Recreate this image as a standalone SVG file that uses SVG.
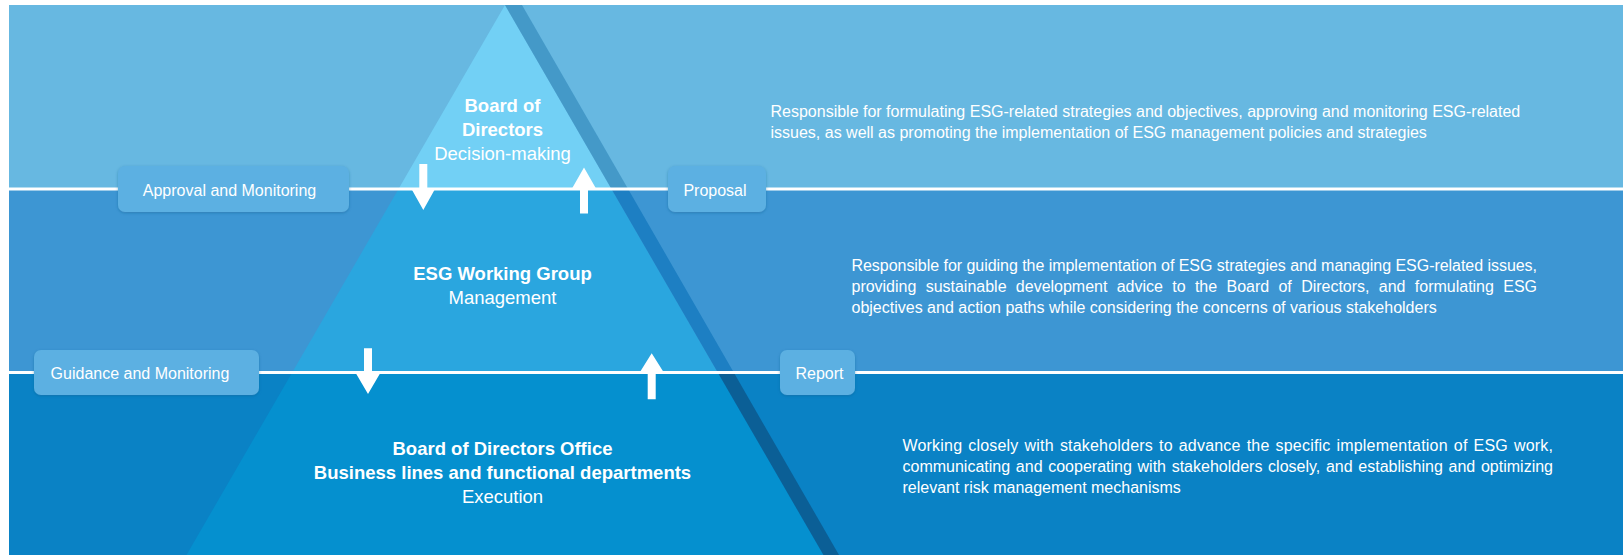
<svg xmlns="http://www.w3.org/2000/svg" width="1623" height="555" viewBox="0 0 1623 555">
  <defs>
    <style>
      .t { font-family: "Liberation Sans", Arial, sans-serif; fill: #ffffff; }
      .title { font-size: 18.5px; font-weight: bold; text-anchor: middle; }
      .sub { font-size: 18.5px; text-anchor: middle; }
      .desc { font-size: 16px; }
      .pilltxt { font-size: 16px; text-anchor: middle; }
      .pill { fill: #5cb0e2; filter: url(#sh); }
      .sep { stroke: #ffffff; stroke-width: 3; }
      .arrow { fill: #ffffff; }
    </style>
    <filter id="sh" x="-10%" y="-20%" width="120%" height="150%">
      <feDropShadow dx="0" dy="1" stdDeviation="1.5" flood-color="#1a5f90" flood-opacity="0.45"/>
    </filter>
  </defs>

  <rect x="0" y="0" width="1623" height="555" fill="#ffffff"/>

  <!-- Band 1: Board of Directors -->
  <g id="tier-board">
    <rect x="9" y="5" width="1614" height="184" fill="#67b8e1"/>
    <polygon points="505,5 398.5,189 611.5,189" fill="#72d0f5"/>
    <polygon points="505,5 522,5 628.1,189 611.5,189" fill="#4499c8"/>
    <text class="t title" x="502.5" y="112">Board of</text>
    <text class="t title" x="502.5" y="136">Directors</text>
    <text class="t sub" x="502.5" y="160">Decision-making</text>
    <text class="t desc" x="770.5" y="117">Responsible for formulating ESG-related strategies and objectives, approving and monitoring ESG-related</text>
    <text class="t desc" x="770.5" y="138">issues, as well as promoting the implementation of ESG management policies and strategies</text>
  </g>

  <!-- Band 2: ESG Working Group -->
  <g id="tier-working-group">
    <rect x="9" y="189" width="1614" height="183.5" fill="#3d96d3"/>
    <polygon points="398.5,189 611.5,189 717.8,372.5 292.2,372.5" fill="#2aa6df"/>
    <polygon points="611.5,189 628.1,189 733.8,372.5 717.8,372.5" fill="#1d7fc3"/>
    <text class="t title" x="502.5" y="280">ESG Working Group</text>
    <text class="t sub" x="502.5" y="304">Management</text>
    <text class="t desc" x="851.5" y="271" textLength="685.5" lengthAdjust="spacing">Responsible for guiding the implementation of ESG strategies and managing ESG-related issues,</text>
    <text class="t desc" x="851.5" y="292" word-spacing="4.9" textLength="685.5" lengthAdjust="spacing">providing sustainable development advice to the Board of Directors, and formulating ESG</text>
    <text class="t desc" x="851.5" y="313">objectives and action paths while considering the concerns of various stakeholders</text>
  </g>

  <!-- Band 3: Execution -->
  <g id="tier-execution">
    <rect x="9" y="372.5" width="1614" height="182.5" fill="#0a82c5"/>
    <polygon points="292.2,372.5 717.8,372.5 823.5,555 186.5,555" fill="#0590cf"/>
    <polygon points="717.8,372.5 733.8,372.5 839,555 823.5,555" fill="#0b5f96"/>
    <text class="t title" x="502.5" y="455">Board of Directors Office</text>
    <text class="t title" x="502.5" y="479">Business lines and functional departments</text>
    <text class="t sub" x="502.5" y="503">Execution</text>
    <text class="t desc" x="902.5" y="451" word-spacing="1.4" textLength="650.5" lengthAdjust="spacing">Working closely with stakeholders to advance the specific implementation of ESG work,</text>
    <text class="t desc" x="902.5" y="472" word-spacing="1.2" textLength="650.5" lengthAdjust="spacing">communicating and cooperating with stakeholders closely, and establishing and optimizing</text>
    <text class="t desc" x="902.5" y="493">relevant risk management mechanisms</text>
  </g>

  <!-- Separator lines -->
  <g id="separators">
    <line class="sep" x1="9" y1="189" x2="1623" y2="189"/>
    <line class="sep" x1="9" y1="372.5" x2="1623" y2="372.5"/>
  </g>

  <!-- Connectors (arrows) -->
  <g id="connectors">
    <polygon class="arrow" points="419.3,164 427.3,164 427.3,189 435,189 423.3,210 411.5,189 419.3,189"/>
    <polygon class="arrow" points="584,167.5 596,188.5 588,188.5 588,213.5 580,213.5 580,188.5 572,188.5"/>
    <polygon class="arrow" points="364,348.3 372,348.3 372,373.5 380,373.5 368,394 356,373.5 364,373.5"/>
    <polygon class="arrow" points="651.7,353.3 663.5,372 655.7,372 655.7,399.3 647.7,399.3 647.7,372 640,372"/>
  </g>

  <!-- Pills -->
  <g id="label-approval">
    <rect class="pill" x="118" y="166" width="231" height="46" rx="7"/>
    <text class="t pilltxt" x="229.5" y="196">Approval and Monitoring</text>
  </g>
  <g id="label-proposal">
    <rect class="pill" x="668" y="166" width="98" height="46" rx="7"/>
    <text class="t pilltxt" x="715" y="196">Proposal</text>
  </g>
  <g id="label-guidance">
    <rect class="pill" x="34" y="350" width="225" height="45" rx="7"/>
    <text class="t pilltxt" x="140" y="379">Guidance and Monitoring</text>
  </g>
  <g id="label-report">
    <rect class="pill" x="780" y="350" width="75" height="45" rx="7"/>
    <text class="t pilltxt" x="819.5" y="379">Report</text>
  </g>
</svg>
